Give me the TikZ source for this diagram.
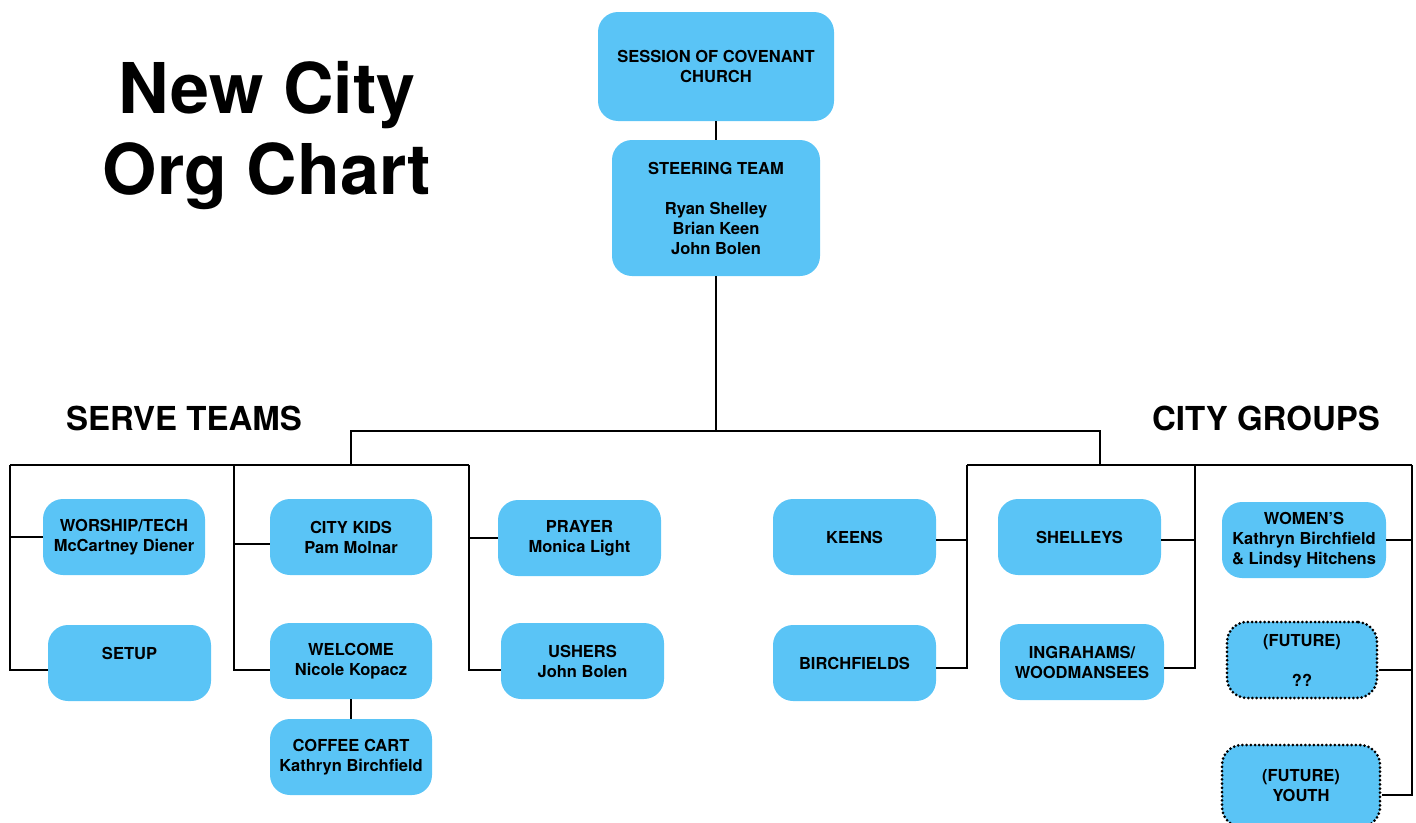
\documentclass[tikz,border=0pt]{standalone}
\usepackage{fontspec}
\setmainfont{TeX Gyre Heros}
\definecolor{boxblue}{RGB}{90,196,246}
\begin{document}
\begin{tikzpicture}[x=1pt,y=-1pt,
  box/.style={rounded corners=20pt, fill=boxblue, draw=none, minimum width=162pt, minimum height=76pt,
    inner sep=0pt, align=center, font=\fontsize{16.5}{20}\selectfont\bfseries},
  futurebox/.style={box, draw=black, line width=3pt, dash pattern=on 0pt off 4.2pt, line cap=round},
  wire/.style={line width=2.8pt, black},
  heading/.style={font=\fontsize{33}{36}\selectfont\bfseries, anchor=base}]
\useasboundingbox (0,0) rectangle (1416,822);
% title
\node[font=\fontsize{70}{81}\selectfont\bfseries, align=center, anchor=base] (title) at (267,194) {New City\\Org Chart};
\node[heading] (serve) at (184,430) {SERVE TEAMS};
\node[heading] (groups) at (1266,430) {CITY GROUPS};
% top boxes
\node[box, minimum width=236pt, minimum height=109pt] (session) at (716,66.5) {SESSION OF COVENANT\\CHURCH};
\node[box, minimum width=208pt, minimum height=136pt] (steer) at (716,208) {STEERING TEAM\\[20pt]Ryan Shelley\\Brian Keen\\John Bolen};
% serve teams
\node[box] (wt) at (124,537) {WORSHIP/TECH\\McCartney Diener};
\node[box, minimum width=163pt] (setup) at (129.5,663) {SETUP\\\mbox{}};
\node[box] (kids) at (351,537) {CITY KIDS\\Pam Molnar};
\node[box] (welcome) at (351,661) {WELCOME\\Nicole Kopacz};
\node[box] (coffee) at (351,757) {COFFEE CART\\Kathryn Birchfield};
\node[box, minimum width=163pt] (prayer) at (579.5,538) {PRAYER\\Monica Light};
\node[box, minimum width=163pt] (ushers) at (582.5,661) {USHERS\\John Bolen};
% city groups
\node[box, minimum width=163pt] (keens) at (854.5,537) {KEENS};
\node[box, minimum width=163pt] (birch) at (854.5,663) {BIRCHFIELDS};
\node[box, minimum width=163pt] (shelleys) at (1079.5,537) {SHELLEYS};
\node[box, minimum width=164pt] (ingr) at (1082,662) {INGRAHAMS/\\WOODMANSEES};
\node[box, minimum width=164pt] (women) at (1304,540) {WOMEN'S\\Kathryn Birchfield\\\& Lindsy Hitchens};
\node[futurebox, minimum width=150pt] (fut1) at (1302,660) {(FUTURE)\\[20pt]??};
\node[futurebox, minimum width=158pt, minimum height=82pt] (fut2) at (1301,786) {(FUTURE)\\YOUTH};
% bus coordinates
\coordinate (mainL) at (351,431);
\coordinate (mainR) at (1100,431);
\coordinate (subL) at (351,465);
\coordinate (subR) at (1100,465);
\coordinate (a1) at (10,465);  \coordinate (a2) at (10,670);
\coordinate (b1) at (234,465); \coordinate (b2) at (234,670);
\coordinate (c1) at (469,465); \coordinate (c2) at (469,670);
\coordinate (d1) at (967,465); \coordinate (d2) at (967,668);
\coordinate (e1) at (1195,465); \coordinate (e2) at (1195,668);
\coordinate (f1) at (1412,465); \coordinate (f2) at (1412,795);
% connectors
\draw[wire] (session) -- (steer);
\draw[wire] (steer.south) -- (steer.south |- mainL);
\draw[wire] (subL) -- (mainL) -- (mainR) -- (subR);
\draw[wire] (a1) -- (c1);
\draw[wire] (d1) -- (f1);
\draw[wire] (a1) -- (a2) -- (setup.west |- a2);
\draw[wire] (wt.west) -- (wt.west -| a1);
\draw[wire] (b1) -- (b2) -- (welcome.west |- b2);
\draw[wire] ([yshift=-7pt]kids.west) -- ([yshift=-7pt]kids.west -| b1);
\draw[wire] (welcome) -- (coffee);
\draw[wire] (c1) -- (c2) -- (ushers.west |- c2);
\draw[wire] (prayer.west) -- (prayer.west -| c1);
\draw[wire] (d1) -- (d2) -- (birch.east |- d2);
\draw[wire] ([yshift=-3pt]keens.east) -- ([yshift=-3pt]keens.east -| d1);
\draw[wire] (e1) -- (e2) -- (ingr.east |- e2);
\draw[wire] ([yshift=-3pt]shelleys.east) -- ([yshift=-3pt]shelleys.east -| e1);
\draw[wire] (f1) -- (f2) -- (fut2.east |- f2);
\draw[wire] (women.east) -- (women.east -| f1);
\draw[wire] ([yshift=-10pt]fut1.east) -- ([yshift=-10pt]fut1.east -| f1);
\end{tikzpicture}
\end{document}
